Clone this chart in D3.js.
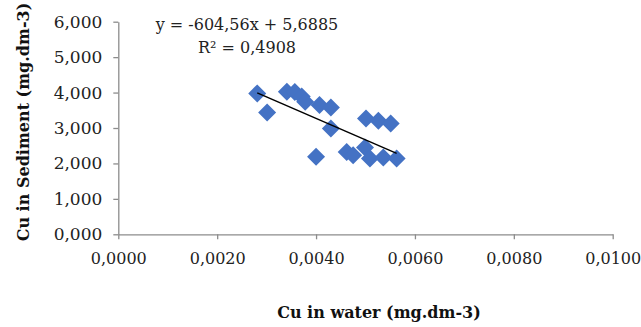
<!DOCTYPE html>
<html>
<head>
<meta charset="utf-8">
<script src="https://cdn.jsdelivr.net/npm/d3@7"></script>
<style>
  body { margin: 0; background: #fff; }
  svg { display: block; }
</style>
</head>
<body>
<svg id="chart" width="641" height="327"></svg>
<script>
// Cu in water (x) vs Cu in sediment (y)
const cuWater = [
  0.00281, 0.00301, 0.00341, 0.00357, 0.00371, 0.00378, 0.00407, 0.00430,
  0.00430, 0.00400, 0.00501, 0.00526, 0.00551, 0.00462, 0.00475, 0.00499,
  0.00509, 0.00536, 0.00563,
];
const cuSediment = [
  3.977, 3.440, 4.022, 4.014, 3.892, 3.739, 3.646, 3.581,
  2.988, 2.190, 3.270, 3.202, 3.129, 2.326, 2.233, 2.451,
  2.140, 2.168, 2.140,
];
const xTicks = [0, 0.002, 0.004, 0.006, 0.008, 0.010];
const yTicks = [0, 1, 2, 3, 4, 5, 6];
const trend = { slope: -604.56, intercept: 5.6885 };
const trendLabels = ['y = -604,56x + 5,6885', 'R² = 0,4908'];

const FONT = '"DejaVu Serif", serif';
const AXIS_GREY = '#8c8c8c';
const BLUE = '#4472C4';

const svg = d3.select('#chart');

const plot = { left: 118.3, right: 612.7, top: 21.7, bottom: 234.3 };

const xScale = d3.scaleLinear()
  .domain([0, 0.01])
  .range([plot.left, plot.right]);

const yScale = d3.scaleLinear()
  .domain([0, 6])
  .range([plot.bottom, plot.top]);

const commaFmt = (spec) => (d) => d3.format(spec)(d).replace('.', ',');

// x axis
const xAxisEl = svg.append('g')
  .attr('transform', `translate(0, ${plot.bottom})`)
  .call(d3.axisBottom(xScale)
    .tickValues(xTicks)
    .tickFormat(commaFmt('.4f'))
    .tickSizeInner(5)
    .tickSizeOuter(0)
    .tickPadding(13));
xAxisEl.select('.domain').attr('stroke', AXIS_GREY).attr('stroke-width', 1.3);
xAxisEl.selectAll('line').attr('stroke', AXIS_GREY).attr('stroke-width', 1.3);
xAxisEl.selectAll('text')
  .style('font-family', FONT)
  .style('font-size', '16px')
  .attr('fill', '#222');

// y axis
const yAxisEl = svg.append('g')
  .attr('transform', `translate(${plot.left}, 0)`)
  .call(d3.axisLeft(yScale)
    .tickValues(yTicks)
    .tickFormat(commaFmt('.3f'))
    .tickSizeInner(5)
    .tickSizeOuter(0)
    .tickPadding(11));
yAxisEl.select('.domain').attr('stroke', AXIS_GREY).attr('stroke-width', 1.3);
yAxisEl.selectAll('line').attr('stroke', AXIS_GREY).attr('stroke-width', 1.3);
yAxisEl.selectAll('text')
  .style('font-family', FONT)
  .style('font-size', '17px')
  .attr('fill', '#222');

// markers
const points = cuWater.map((x, i) => ({ x, y: cuSediment[i] }));
const diamond = d3.symbol(d3.symbolSquare, 162);

svg.append('g')
  .selectAll('path')
  .data(points)
  .enter()
  .append('path')
  .attr('d', diamond)
  .attr('fill', BLUE)
  .attr('transform', d => `translate(${xScale(d.x)}, ${yScale(d.y)}) rotate(45)`);

// linear trendline over the data range
const [xMin, xMax] = d3.extent(cuWater);
const trendLine = d3.line()
  .x(d => xScale(d))
  .y(d => yScale(trend.slope * d + trend.intercept));
svg.append('path')
  .attr('d', trendLine([xMin, xMax]))
  .attr('stroke', '#000')
  .attr('stroke-width', 1.5)
  .attr('fill', 'none');

// equation label
trendLabels.forEach((t, i) => {
  svg.append('text')
    .text(t)
    .attr('x', 247)
    .attr('y', 30 + i * 23)
    .attr('text-anchor', 'middle')
    .style('font-family', FONT)
    .style('font-size', '16px')
    .attr('fill', '#222');
});

// axis titles
svg.append('text')
  .text('Cu in water (mg.dm-3)')
  .attr('x', 379)
  .attr('y', 318)
  .attr('text-anchor', 'middle')
  .style('font-family', FONT)
  .style('font-size', '16px')
  .style('font-weight', 'bold')
  .attr('fill', '#111');

svg.append('text')
  .text('Cu in Sediment (mg.dm-3)')
  .attr('transform', 'translate(29, 122) rotate(-90)')
  .attr('text-anchor', 'middle')
  .style('font-family', FONT)
  .style('font-size', '16px')
  .style('font-weight', 'bold')
  .attr('fill', '#111');
</script>
</body>
</html>
